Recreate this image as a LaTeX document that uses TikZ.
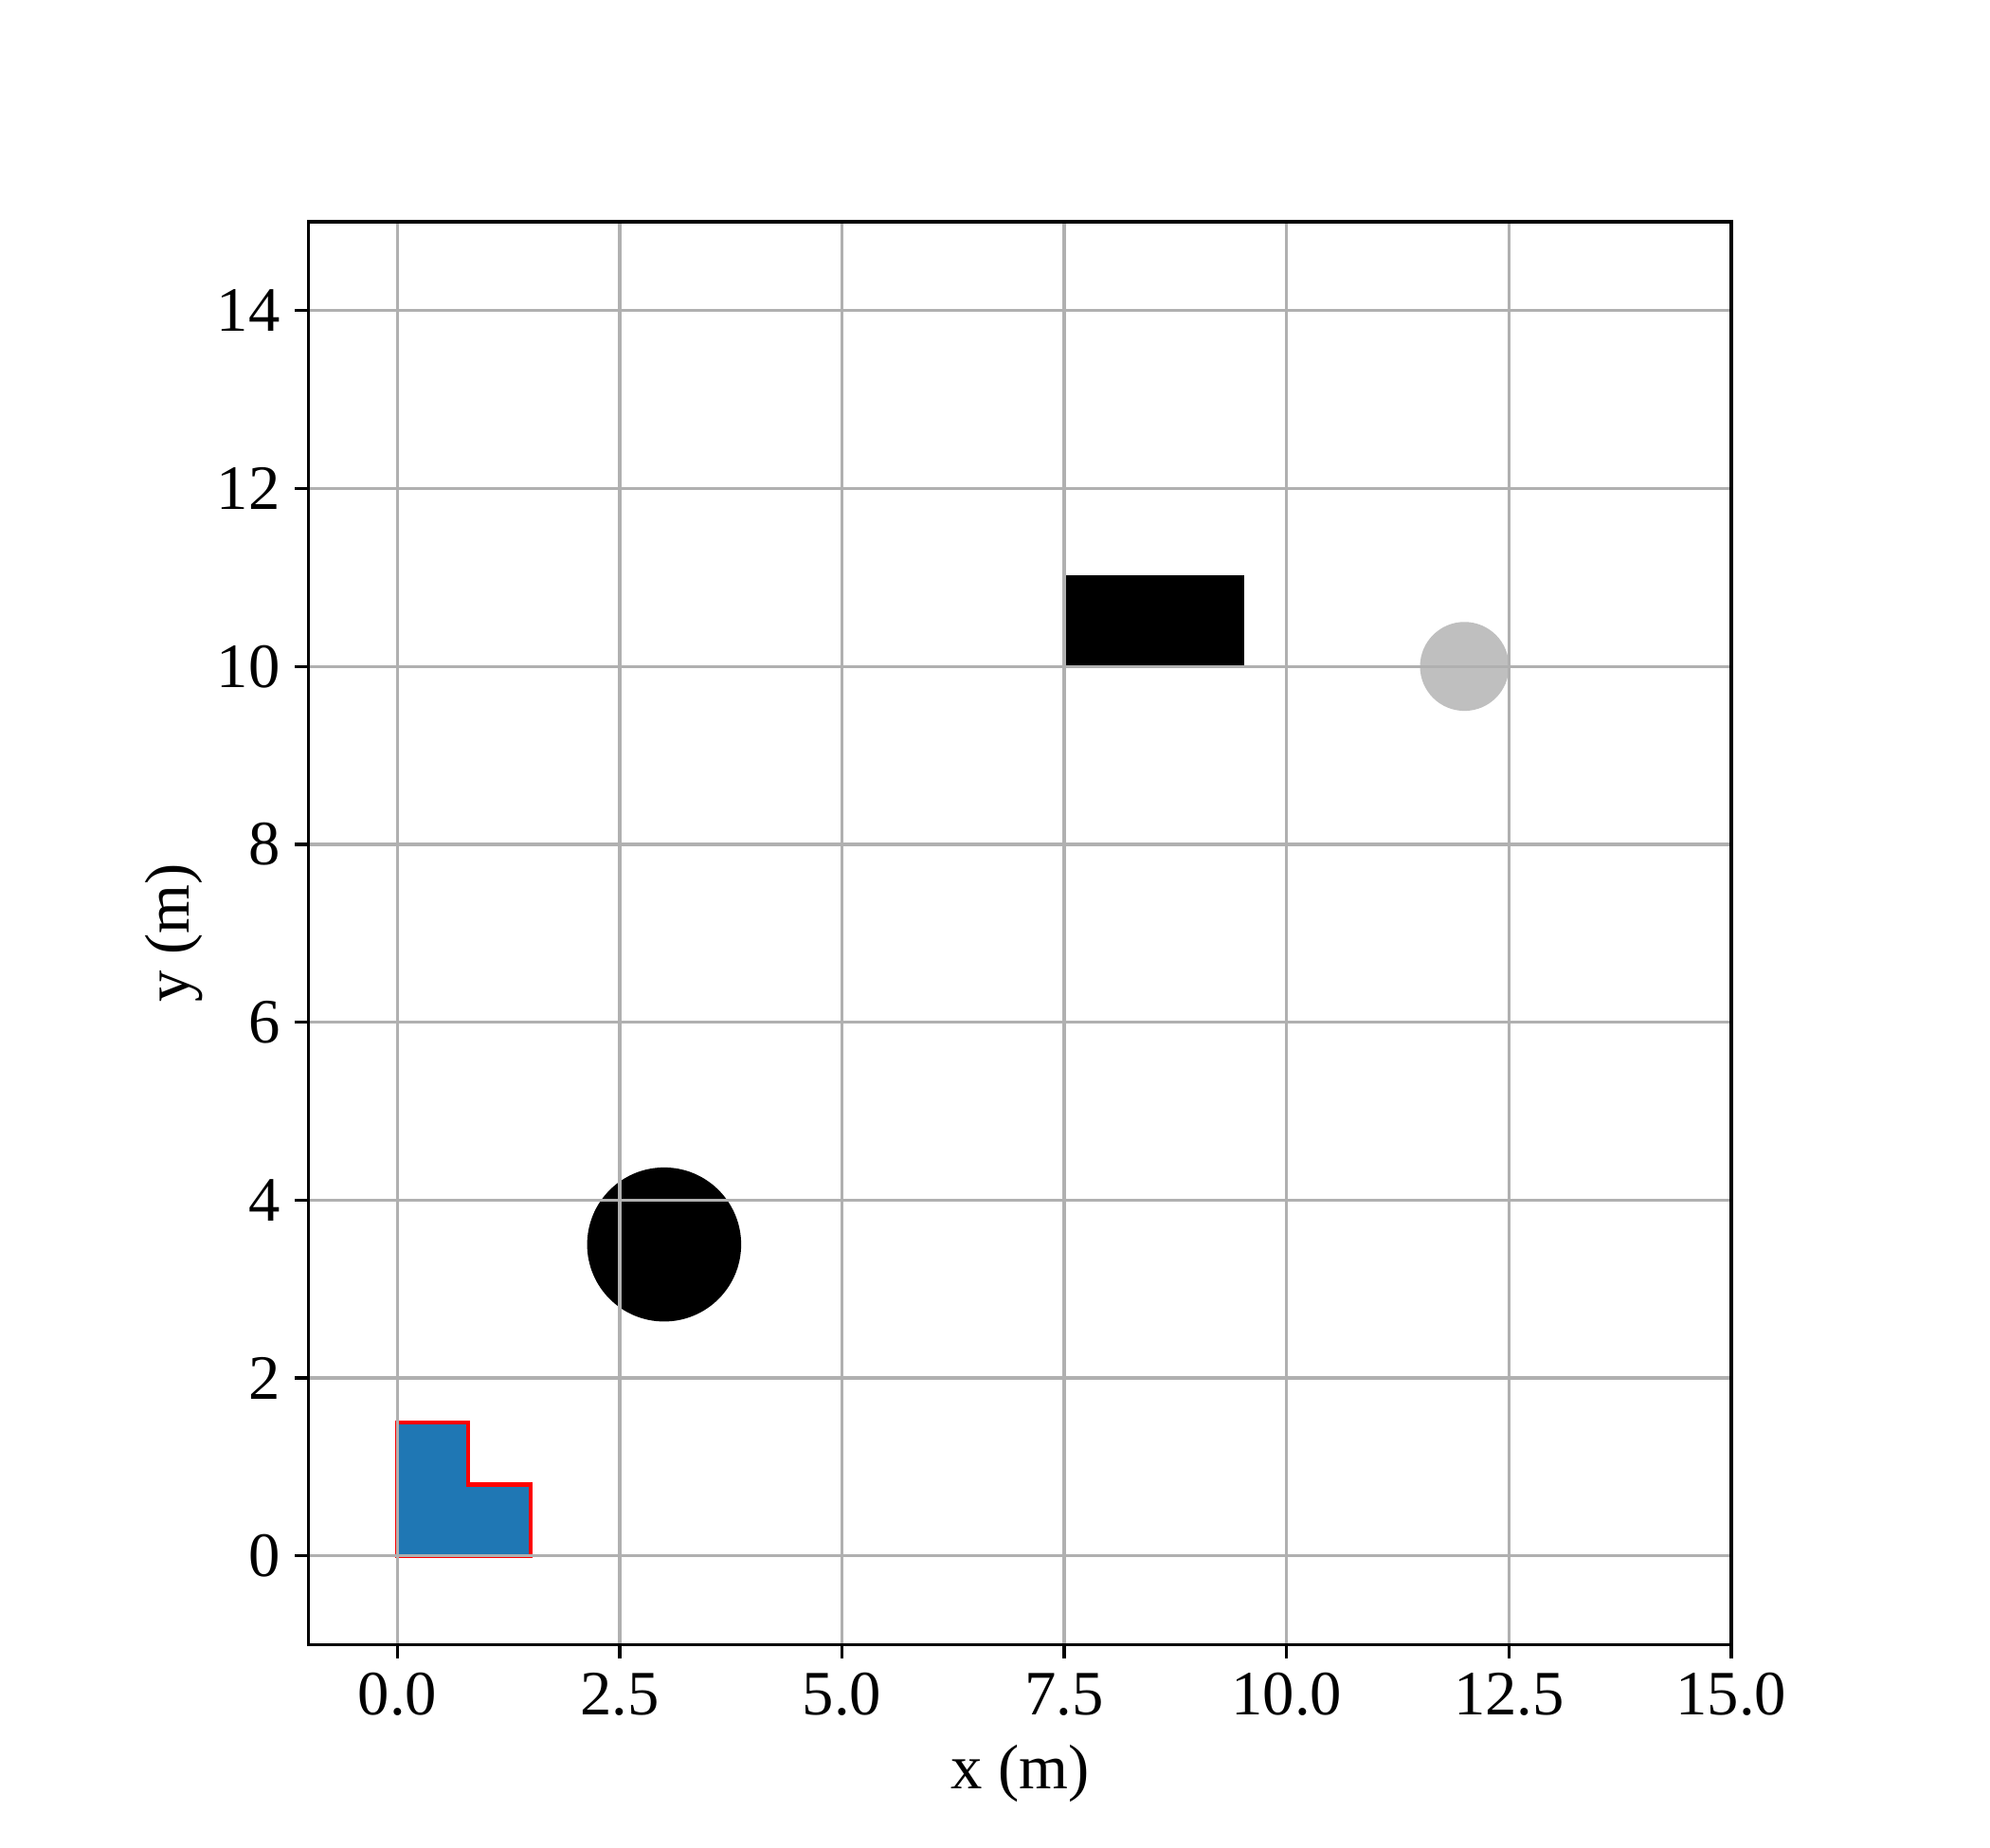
\documentclass[tikz,border=0pt]{standalone}
\usepackage{fontspec}
\setmainfont{Liberation Serif}
\definecolor{mplblue}{RGB}{31,119,180}
\definecolor{silvergray}{RGB}{191,191,191}
\definecolor{gridgray}{RGB}{176,176,176}
\begin{document}
\begin{tikzpicture}[x=22.5225bp,y=22.5225bp,
  gridline/.style={draw=gridgray,line width=0.8bp},
  spine/.style={draw=black,line width=0.8bp},
  tickline/.style={draw=black,line width=0.8bp},
  ticklabel/.style={inner sep=0pt,font=\fontsize{16.06pt}{19pt}\selectfont},
  axislabel/.style={inner sep=0pt,font=\fontsize{16.06pt}{19pt}\selectfont}]
\useasboundingbox[fill=white] (-4.4685,-3.2857) rectangle (17.9094,17.4937);
% patches
\filldraw[fill=mplblue,draw=red,line width=1bp,line join=miter]
  (0,0) -- (1.5,0) -- (1.5,0.8) -- (0.8,0.8) -- (0.8,1.5) -- (0,1.5) -- cycle;
\filldraw[fill=black,draw=black,line width=1bp] (7.5,10) rectangle (9.5,11);
\fill[black] (3,3.5) circle (0.866);
\fill[silvergray] (12,10) circle (0.5);
% grid
\begin{scope}
\clip (-1,-1) rectangle (15,15);
\foreach \x in {0,2.5,5,7.5,10,12.5,15} \draw[gridline] (\x,-1) -- (\x,15);
\foreach \y in {0,2,...,14} \draw[gridline] (-1,\y) -- (15,\y);
\end{scope}
% spines
\draw[spine] (-1,-1) rectangle (15,15);
% x ticks
\foreach \x/\l [count=\i] in {0/0.0,2.5/2.5,5/5.0,7.5/7.5,10/10.0,12.5/12.5,15/15.0}{
  \coordinate (xb\i) at (\x,-1);
  \draw[tickline] (xb\i) -- ++(0,-3.5bp);
  \node[ticklabel,anchor=north] (xt\i) at ([yshift=-7bp]xb\i) {\l};
}
% y ticks
\foreach \y [count=\i] in {0,2,...,14}{
  \coordinate (yb\i) at (-1,\y);
  \draw[tickline] (yb\i) -- ++(-3.5bp,0);
  \node[ticklabel,anchor=east] (yt\i) at ([xshift=-7bp]yb\i) {\y};
}
% axis labels
\node[axislabel] (xlabel) at (7,-2.444) {x (m)};
\node[axislabel,rotate=90] (ylabel) at (-2.513,7) {y (m)};
\end{tikzpicture}
\end{document}
